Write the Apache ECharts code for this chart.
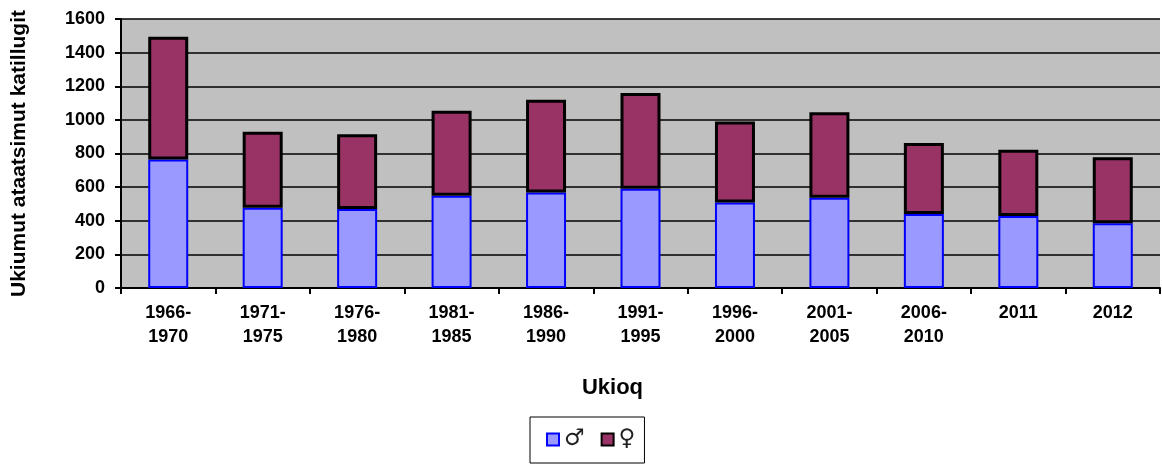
<!DOCTYPE html>
<html>
<head>
<meta charset="utf-8">
<script src="https://cdn.jsdelivr.net/npm/echarts@6/dist/echarts.min.js"></script>
<style>
  html, body { margin: 0; padding: 0; background: #fff; }
  #chart { width: 1162px; height: 465px; }
</style>
</head>
<body>
<div id="chart"></div>
<script>
  const periods = ['1966-\n1970', '1971-\n1975', '1976-\n1980', '1981-\n1985', '1986-\n1990',
    '1991-\n1995', '1996-\n2000', '2001-\n2005', '2006-\n2010', '2011', '2012'];
  const males = [765, 478, 470, 548, 568, 590, 508, 537, 440, 428, 385];
  const females = [730, 452, 445, 507, 552, 570, 482, 508, 422, 394, 393];

  const chart = echarts.init(document.getElementById('chart'));
  const bold = { fontFamily: 'Liberation Sans, Arial', fontWeight: 'bold', color: '#000' };

  chart.setOption({
    animation: false,
    grid: {
      left: 121, right: 2, top: 19, bottom: 177,
      show: true, backgroundColor: '#c0c0c0', borderWidth: 0
    },
    legend: {
      left: 530, top: 417,
      padding: [11, 9, 12, 16],
      itemGap: 16, itemWidth: 12, itemHeight: 12,
      icon: 'rect',
      borderColor: '#000', borderWidth: 1,
      textStyle: { fontFamily: 'DejaVu Sans', fontSize: 23, color: '#222' },
      data: ['♂', '♀']
    },
    xAxis: {
      type: 'category',
      data: periods,
      name: 'Ukioq',
      nameLocation: 'middle',
      nameGap: 89,
      nameTextStyle: Object.assign({}, bold, { fontSize: 22, padding: [0, 56, 0, 0] }),
      axisLine: { lineStyle: { color: '#000', width: 2 } },
      axisTick: { show: true, length: 6, lineStyle: { color: '#000', width: 2 } },
      axisLabel: Object.assign({}, bold, { fontSize: 18, lineHeight: 24, margin: 13 })
    },
    yAxis: {
      type: 'value',
      min: 0, max: 1600, interval: 200,
      name: 'Ukiumut ataatsimut katillugit',
      nameLocation: 'middle',
      nameGap: 91,
      nameTextStyle: Object.assign({}, bold, { fontSize: 21 }),
      axisLine: { show: true, lineStyle: { color: '#000', width: 2 } },
      axisTick: { show: true, length: 6, lineStyle: { color: '#000', width: 2 } },
      axisLabel: Object.assign({}, bold, { fontSize: 18, margin: 16, formatter: v => String(v) }),
      splitLine: { lineStyle: { color: '#000', width: 1.5 } }
    },
    series: [
      {
        name: '♂', type: 'bar', stack: 'total', data: males,
        barWidth: 40,
        itemStyle: { color: '#9999ff', borderColor: '#0000ff', borderWidth: 2 }
      },
      {
        name: '♀', type: 'bar', stack: 'total', data: females,
        barWidth: 40,
        itemStyle: { color: '#993366', borderColor: '#000', borderWidth: 3 }
      }
    ]
  });
</script>
</body>
</html>
